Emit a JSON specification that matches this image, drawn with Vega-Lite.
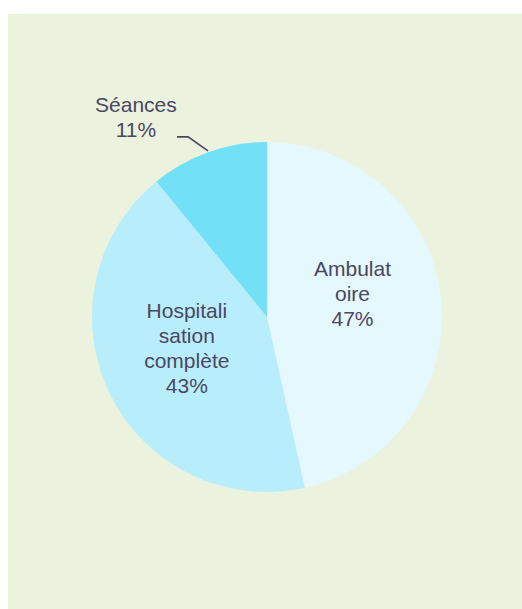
{
  "$schema": "https://vega.github.io/schema/vega-lite/v6.json",
  "width": 522,
  "height": 609,
  "autosize": {"type": "fit", "contains": "padding"},
  "padding": {"left": 8, "top": 14, "right": -4, "bottom": -11},
  "background": "#ffffff",
  "config": {"view": {"stroke": null, "fill": "#ebf2dd"}},
  "datasets": {
    "parts": [
      {"categorie": "Ambulatoire", "label": "Ambulat\noire\n47%", "part": 47, "rang": 1},
      {"categorie": "Hospitalisation complète", "label": "Hospitali\nsation\ncomplète\n43%", "part": 43, "rang": 2},
      {"categorie": "Séances", "label": "Séances\n11%", "part": 11, "rang": 3}
    ],
    "leader": [
      {"ux": -0.514, "uy": 1.029, "k": 1},
      {"ux": -0.451, "uy": 1.029, "k": 2},
      {"ux": -0.337, "uy": 0.949, "k": 3}
    ]
  },
  "layer": [
    {
      "data": {"name": "parts"},
      "mark": {"type": "arc", "outerRadius": 175},
      "encoding": {
        "theta": {"field": "part", "type": "quantitative", "stack": true},
        "color": {
          "field": "categorie",
          "type": "nominal",
          "scale": {
            "domain": ["Ambulatoire", "Hospitalisation complète", "Séances"],
            "range": ["#e5f8fe", "#b8eefb", "#72e0f7"]
          },
          "legend": null
        },
        "order": {"field": "rang", "type": "quantitative"}
      }
    },
    {
      "data": {"name": "parts"},
      "mark": {
        "type": "text",
        "radius": {"expr": "datum.categorie === 'Séances' ? 212 : 88"},
        "dx": {"expr": "datum.categorie === 'Séances' ? -60 : (datum.categorie === 'Ambulatoire' ? -2 : -1)"},
        "dy": {"expr": "datum.categorie === 'Ambulatoire' ? -37 : (datum.categorie === 'Séances' ? -11 : -43)"},
        "font": "Liberation Sans",
        "fontSize": 21,
        "lineBreak": "\n",
        "lineHeight": 25,
        "align": "center",
        "baseline": "middle",
        "color": "#4b4662"
      },
      "encoding": {
        "theta": {"field": "part", "type": "quantitative", "stack": true},
        "order": {"field": "rang", "type": "quantitative"},
        "text": {"field": "label", "type": "nominal"}
      }
    },
    {
      "data": {"name": "leader"},
      "mark": {"type": "line", "color": "#4b4662", "strokeWidth": 1.6},
      "encoding": {
        "x": {"field": "ux", "type": "quantitative", "scale": {"domain": [-1.48, 1.48]}, "axis": null},
        "y": {"field": "uy", "type": "quantitative", "scale": {"domain": [-1.7314, 1.7314]}, "axis": null},
        "order": {"field": "k", "type": "quantitative"}
      }
    }
  ]
}
